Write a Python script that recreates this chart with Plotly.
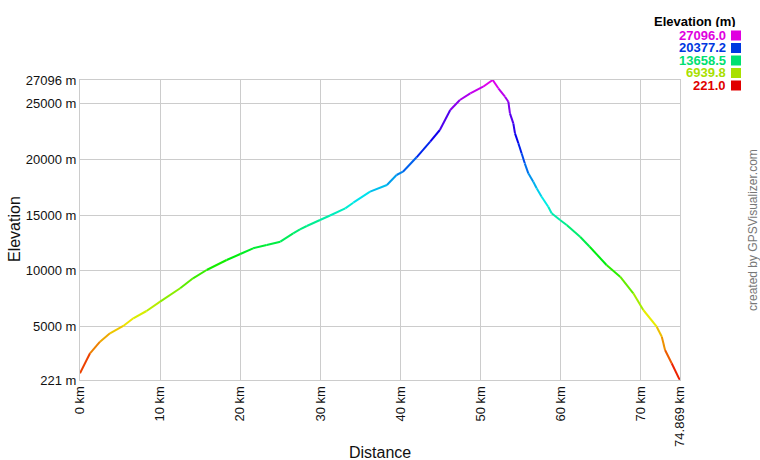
import colorsys
import plotly.graph_objects as go

# ---- data ----
distance_km = [0, 1.25, 2.5, 3.74, 5.4, 6.65, 8.3, 10.0, 12.5, 14.1, 15.8, 18.3, 20.0,
               21.6, 23.3, 25.0, 26.6, 27.45, 28.3, 29.95, 31.2, 33.1, 34.1, 36.2, 38.3,
               39.5, 40.3, 42.0, 43.7, 44.9, 46.2, 47.4, 48.7, 50.3, 51.5, 52.2, 53.03,
               53.45, 53.65, 54.07, 54.28, 54.7, 55.1, 55.5, 55.94, 56.56, 56.98, 57.6,
               58.43, 58.85, 59.9, 60.73, 62.4, 63.6, 65.7, 67.4, 69.04, 70.29, 71.96,
               72.6, 73.0, 73.83, 74.8, 74.869]
elevation_m = [820, 2613, 3653, 4405, 5060, 5748, 6402, 7235, 8437, 9331, 10075, 10970, 11508,
               12020, 12314, 12610, 13363, 13721, 14016, 14554, 14960, 15600, 16104, 17090, 17690,
               18585, 18880, 20170, 21570, 22616, 24408, 25303, 25900, 26495, 27096, 26352, 25600,
               25150, 24112, 23216, 22320, 21425, 20530, 19633, 18737, 17985, 17394, 16641,
               15745, 15153, 14554, 14106, 13058, 12162, 10523, 9475, 7988, 6492, 4996,
               4100, 2908, 1717, 284, 221]

y_tick_vals = [221, 5000, 10000, 15000, 20000, 25000, 27096]
y_tick_text = ["221 m", "5000 m", "10000 m", "15000 m", "20000 m", "25000 m", "27096 m"]
x_tick_vals = [0, 10, 20, 30, 40, 50, 60, 70, 74.869]
x_tick_text = ["0 km", "10 km", "20 km", "30 km", "40 km", "50 km", "60 km", "70 km", "74.869 km"]

x_title = "Distance"
y_title = "Elevation"
legend_title = "Elevation (m)"
legend_values = [27096.0, 20377.2, 13658.5, 6939.8, 221.0]
credit = "created by GPSVisualizer.com"

E_MIN, E_MAX = 221.0, 27096.0
FONT = "Liberation Sans, Arial, sans-serif"


def elev_color(e, v=0.93):
    t = (e - E_MIN) / (E_MAX - E_MIN)
    t = min(max(t, 0.0), 1.0)
    r, g, b = colorsys.hsv_to_rgb(t * 300.0 / 360.0, 1.0, v)
    return "rgb(%d,%d,%d)" % (round(r * 255), round(g * 255), round(b * 255))


def px_x(sx):
    # screen x (px) -> paper coordinate (plot area spans 80..680)
    return (sx - 80) / 600.0


def px_y(sy):
    # screen y (px) -> paper coordinate (plot area spans 80..380)
    return (380 - sy) / 300.0


fig = go.Figure()

# colour-graded line: one short segment per pair of consecutive points
for i in range(len(distance_km) - 1):
    mid = 0.5 * (elevation_m[i] + elevation_m[i + 1])
    fig.add_trace(go.Scatter(
        x=[distance_km[i], distance_km[i + 1]],
        y=[elevation_m[i], elevation_m[i + 1]],
        mode="lines",
        line=dict(color=elev_color(mid), width=2),
        cliponaxis=False,
        showlegend=False,
        hoverinfo="skip",
    ))

grid = "#cccccc"
fig.update_layout(
    width=760, height=460,
    margin=dict(l=80, r=80, t=80, b=80, autoexpand=False),
    paper_bgcolor="white", plot_bgcolor="white",
    font=dict(family=FONT, size=13, color="#111111"),
    showlegend=False,
    xaxis=dict(
        range=[0, 74.869], tickvals=x_tick_vals, ticktext=x_tick_text,
        tickangle=-90, showgrid=True, gridcolor=grid, gridwidth=1,
        showline=True, linecolor=grid, mirror=True, zeroline=False,
        ticks="", ticklen=0, automargin=False,
        tickfont=dict(size=13, family=FONT, color="#111111"),
    ),
    yaxis=dict(
        range=[221, 27096], tickvals=y_tick_vals, ticktext=y_tick_text,
        showgrid=True, gridcolor=grid, gridwidth=1,
        showline=True, linecolor=grid, mirror=True, zeroline=False,
        ticks="", ticklen=0, automargin=False,
        tickfont=dict(size=13, family=FONT, color="#111111"),
    ),
)

# axis titles
fig.add_annotation(
    xref="paper", yref="paper", x=px_x(380), y=px_y(452),
    xanchor="center", yanchor="middle", showarrow=False,
    text=x_title, font=dict(size=16, family=FONT, color="#111111"),
)
fig.add_annotation(
    xref="paper", yref="paper", x=px_x(14), y=px_y(229),
    xanchor="center", yanchor="middle", showarrow=False, textangle=-90,
    text=y_title, font=dict(size=16, family=FONT, color="#111111"),
)

# elevation colour key (top right)
fig.add_annotation(
    xref="paper", yref="paper", x=px_x(737), y=px_y(21),
    xanchor="right", yanchor="middle", showarrow=False, borderpad=0, height=12,
    text="<b>%s</b>" % legend_title, font=dict(size=13, family=FONT, color="#000000"),
)
for k, val in enumerate(legend_values):
    yc = 35.5 + k * 12.5
    col = elev_color(val, v=0.88)
    fig.add_annotation(
        xref="paper", yref="paper", x=px_x(727), y=px_y(yc),
        xanchor="right", yanchor="middle", showarrow=False, borderpad=0, height=11,
        text="<b>%.1f</b>" % val, font=dict(size=13, family=FONT, color=col),
    )
    fig.add_shape(
        type="rect", xref="paper", yref="paper",
        x0=px_x(731), x1=px_x(741),
        y0=px_y(yc + 5), y1=px_y(yc - 5),
        fillcolor=col, line=dict(width=0),
    )

# credit
fig.add_annotation(
    xref="paper", yref="paper", x=px_x(753), y=px_y(230),
    xanchor="center", yanchor="middle", showarrow=False, textangle=-90,
    text=credit, font=dict(size=12, family=FONT, color="#777777"),
)

fig.write_html(
    "out.html",
    config={"displayModeBar": False},
    post_script="document.body.style.margin='0';document.body.style.overflow='hidden';",
)
